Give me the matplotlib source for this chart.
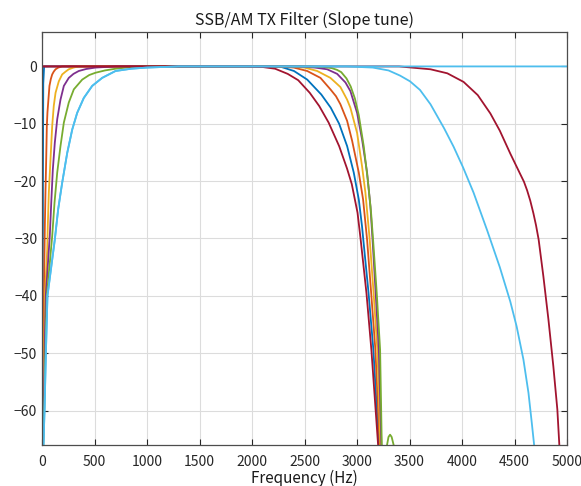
import matplotlib
matplotlib.use("Agg")
import matplotlib.pyplot as plt

plt.rcParams['font.family'] = ['Noto Sans CJK JP', 'DejaVu Sans']

# MATLAB default colour order
blue = (0.000, 0.447, 0.741)
orange = (0.850, 0.325, 0.098)
yellow = (0.929, 0.694, 0.125)
purple = (0.494, 0.184, 0.556)
green = (0.466, 0.674, 0.188)
cyan = (0.301, 0.745, 0.933)
maroon = (0.635, 0.078, 0.184)

# low side (high-pass) edges
hp_blue_f = [5, 7, 9, 12, 20]
hp_blue_db = [-66, -40, -20, -3, 0]
hp_orange_f = [5, 10, 16, 22, 27, 33, 40, 46, 52, 59, 71, 84, 97, 112, 129, 155, 192]
hp_orange_db = [-66, -55, -45, -35, -27.9, -22, -16.2, -10.4, -8.0, -6.3, -3.4, -2.2, -1.4, -0.9, -0.5, -0.2, 0]
hp_yellow_f = [8, 14, 20, 28, 50, 55, 65, 81, 97, 112, 129, 160, 192, 225, 255, 300, 350]
hp_yellow_db = [-66, -60, -50, -40, -31.9, -27.9, -22, -16.2, -10.4, -6.9, -4.6, -2.6, -1.4, -0.9, -0.5, -0.2, 0]
hp_purple_f = [10, 17, 25, 36, 74, 88, 103, 122, 145, 176, 208, 255, 300, 350, 420, 510, 700]
hp_purple_db = [-66, -60, -50, -40, -29.6, -23.8, -18, -13.3, -9.2, -5.8, -3.4, -2, -1.3, -0.8, -0.45, -0.2, 0]
hp_green_f = [12, 21, 32, 46, 97, 119, 145, 176, 208, 255, 303, 383, 450, 510, 600, 700, 900]
hp_green_db = [-66, -60, -50, -40, -29.6, -23.8, -18.5, -13.9, -9.8, -6.3, -4.0, -2.3, -1.5, -1.1, -0.7, -0.4, 0]
hp_cyan_f = [14, 24, 37, 52, 122, 154, 192, 240, 288, 335, 398, 478, 573, 700, 850, 1000, 1300]
hp_cyan_db = [-66, -60, -50, -40, -30.2, -24.9, -20.3, -15.1, -11, -8.1, -5.5, -3.4, -2, -0.8, -0.4, -0.2, 0]
hp_none_f = [0]
hp_none_db = [0]

# high side (low-pass) edges
lp_maroon1_f = [1950, 2100, 2220, 2340, 2440, 2550, 2640, 2730, 2830, 2905, 2950, 3005, 3035, 3090, 3137, 3201]
lp_maroon1_db = [0, -0.1, -0.4, -1.3, -2.4, -4.6, -6.9, -9.8, -13.9, -17.8, -20.5, -25.5, -30.2, -39.5, -49.4, -66]
lp_blue_f = [2150, 2280, 2400, 2526, 2660, 2750, 2830, 2906, 2969, 3017, 3048, 3060, 3110, 3156, 3208]
lp_blue_db = [0, -0.1, -0.8, -2.3, -4.9, -7.2, -10.0, -13.9, -18.5, -23.2, -27.9, -30.2, -39.5, -49.4, -66]
lp_orange_f = [2250, 2398, 2526, 2652, 2747, 2800, 2842, 2906, 2954, 3017, 3058, 3096, 3135, 3175, 3216]
lp_orange_db = [0, -0.2, -0.8, -2.0, -4.0, -5.2, -6.6, -9.5, -13.0, -18.5, -23.2, -30.2, -39.5, -49.4, -66]
lp_yellow_f = [2350, 2500, 2621, 2747, 2842, 2906, 2937, 3001, 3048, 3080, 3121, 3158, 3194, 3223]
lp_yellow_db = [0, -0.2, -0.8, -2.0, -3.6, -5.8, -7.2, -11.6, -17.4, -22, -30.2, -39.5, -49.4, -66]
lp_purple_f = [2450, 2600, 2716, 2811, 2890, 2937, 3001, 3048, 3096, 3128, 3148, 3178, 3208, 3232]
lp_purple_db = [0, -0.2, -0.5, -1.3, -2.8, -4.3, -8.1, -12.7, -18.5, -24.4, -30.2, -39.5, -49.4, -66]
lp_green_f = [2550, 2680, 2760, 2810, 2850, 2900, 2940, 2980, 3017, 3064, 3102, 3134, 3153, 3188, 3220, 3236,
              3260, 3286, 3300, 3315, 3330, 3349, 3375]
lp_green_db = [0, -0.1, -0.3, -0.6, -1.0, -2.1, -3.5, -5.6, -8.5, -13.9, -19.7, -25.5, -30.2, -39.5, -49.4, -66,
               -72, -66, -64.6, -64.2, -64.6, -66, -72]
lp_cyan_f = [2900, 3150, 3300, 3410, 3505, 3600, 3700, 3830, 3920, 4010, 4110, 4240, 4360,
             4460, 4520, 4585, 4633, 4665, 4687]
lp_cyan_db = [0, -0.2, -0.7, -1.6, -2.6, -4.1, -6.6, -10.8, -14.0, -17.6, -22.0, -28.6, -35.0,
              -41.0, -45.3, -51.1, -56.9, -62.2, -66]
lp_maroon2_f = [3400, 3700, 3860, 4015, 4150, 4270, 4360, 4460, 4550, 4590, 4620, 4650, 4680, 4705, 4730,
                4775, 4823, 4870, 4908, 4927]
lp_maroon2_db = [0, -0.5, -1.2, -2.7, -5.0, -8.2, -11.2, -15.2, -18.6, -20.1, -21.6, -23.4, -25.6, -27.7, -30.2,
                 -36.6, -44.1, -52.3, -59.8, -66]
lp_none_f = [5000]
lp_none_db = [0]

# each response = low edge + high edge, in drawing order
curves = [
    (hp_blue_f, hp_blue_db, lp_blue_f, lp_blue_db, blue),
    (hp_orange_f, hp_orange_db, lp_orange_f, lp_orange_db, orange),
    (hp_yellow_f, hp_yellow_db, lp_yellow_f, lp_yellow_db, yellow),
    (hp_purple_f, hp_purple_db, lp_purple_f, lp_purple_db, purple),
    (hp_green_f, hp_green_db, lp_green_f, lp_green_db, green),
    (hp_none_f, hp_none_db, lp_maroon1_f, lp_maroon1_db, maroon),
    (hp_none_f, hp_none_db, lp_maroon2_f, lp_maroon2_db, maroon),
    (hp_cyan_f, hp_cyan_db, lp_cyan_f, lp_cyan_db, cyan),
    (hp_cyan_f, hp_cyan_db, lp_none_f, lp_none_db, cyan),
]

fig = plt.figure(figsize=(5.81, 4.86), dpi=100)
ax = fig.add_axes([42 / 581, 1 - 445 / 486, 525 / 581, 413 / 486])

for hf, hd, lf, ld, c in curves:
    ax.plot(hf + lf, hd + ld, color=c, lw=1.3, solid_capstyle='butt')

ax.set_xlim(0, 5000)
ax.set_ylim(-66, 6)
ax.set_xticks(range(0, 5001, 500))
ax.set_yticks(range(-60, 1, 10))
ax.set_yticklabels(['\u221260', '\u221250', '\u221240', '\u221230', '\u221220', '\u221210', '0'])
ax.grid(True, color='#dcdcdc', lw=0.8)
ax.set_axisbelow(True)
ax.tick_params(direction='in', length=4, top=True, right=True, labelsize=10,
               colors='#262626', width=0.8)
ax.tick_params(axis='x', pad=7)
for s in ax.spines.values():
    s.set_color('#4d4d4d')
    s.set_linewidth(0.9)

ax.set_title('SSB/AM TX Filter (Slope tune)', fontsize=11.5, color='#1a1a1a', pad=5)
ax.set_xlabel('Frequency (Hz)', fontsize=11, color='#1a1a1a', labelpad=1)

fig.savefig('out.png', dpi=100)
